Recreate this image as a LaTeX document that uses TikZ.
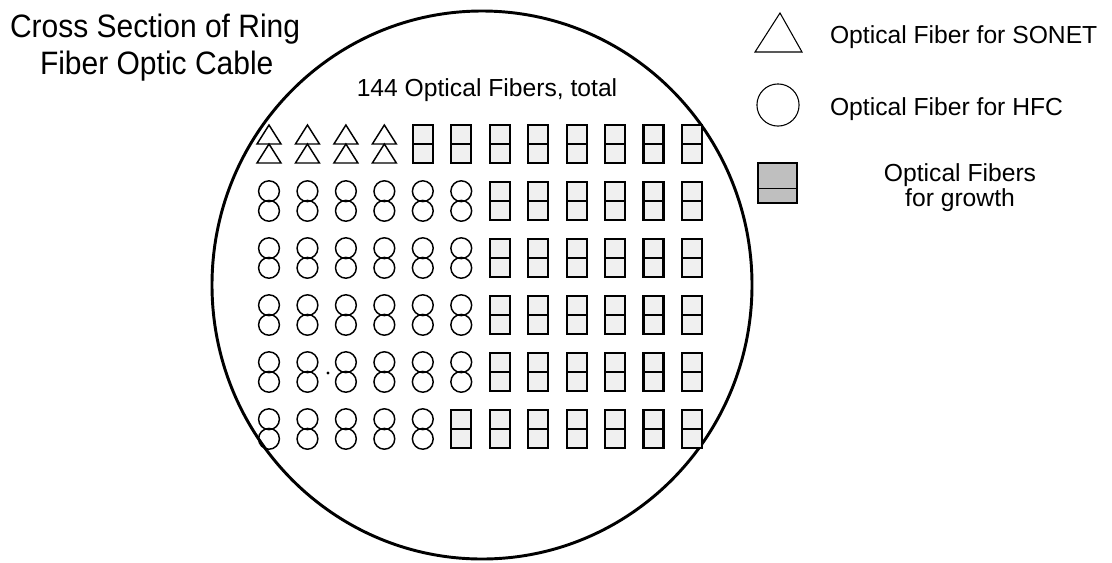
\documentclass[tikz,border=0pt]{standalone}
\usepackage{fontspec}
\setmainfont{Liberation Sans}
\begin{document}
\begin{tikzpicture}[x=0.75pt,y=-0.75pt,
  titlefont/.style={font=\fontsize{22.5}{27}\selectfont},
  labelfont/.style={font=\fontsize{18.5}{22}\selectfont},
  txt/.style={inner sep=0pt, outer sep=0pt},
  fibtri/.style={draw=black, line width=1.1pt, line join=miter},
  fibcirc/.style={draw=black, line width=1.1pt},
  fibrect/.style={draw=black, line width=1.6pt, fill=black!6},
  cable/.style={draw=black, line width=2.2pt},
  legshape/.style={draw=black, line width=0.8pt}]
\useasboundingbox (0,0) rectangle (1112,562);
\fill[white] (0,0) rectangle (1112,562);

% cable outline
\draw[cable] (482,285) ellipse [x radius=270, y radius=274];

% title
\node[txt, titlefont, anchor=base west, yscale=1.08] (title1) at (10,37) {Cross Section of Ring};
\node[txt, titlefont, anchor=base west, yscale=1.08] (title2) at (40,74) {Fiber Optic Cable};

% total label
\node[txt, labelfont, anchor=base] (total) at (487,96) {144 Optical Fibers, total};

% fibers: row / number of special fibers / kind (1 = SONET triangle, 2 = HFC circle)
\foreach \r/\k/\t in {1/4/1, 2/6/2, 3/6/2, 4/6/2, 5/6/2, 6/5/2} {
  \foreach \c in {1,...,12} {
    \pgfmathsetmacro\cx{269+38.45*(\c-1)}
    \pgfmathsetmacro\cy{144+57*(\r-1)}
    \ifnum\c>\k
      \draw[fibrect] ({\cx-10},{\cy-19}) rectangle ({\cx+10},{\cy+19});
      \draw[line width=1.5pt] ({\cx-10},{\cy}) -- ({\cx+10},{\cy});
    \else
      \ifnum\t=1
        \draw[fibtri] ({\cx-12},{\cy}) -- ({\cx+12},{\cy}) -- ({\cx},{\cy-19}) -- cycle;
        \draw[fibtri] ({\cx-12},{\cy+19}) -- ({\cx+12},{\cy+19}) -- ({\cx},{\cy}) -- cycle;
      \else
        \draw[fibcirc] ({\cx},{\cy-9.8}) circle [radius=7.8pt];
        \draw[fibcirc] ({\cx},{\cy+9.8}) circle [radius=7.8pt];
      \fi
    \fi
  }
}
\fill (328,373) circle [radius=1.2pt];

% legend
\draw[legshape] (755,52) -- (802,52) -- (780,13) -- cycle;
\node[txt, labelfont, anchor=base west] (legsonet) at (830,43) {Optical Fiber for SONET};
\draw[legshape] (778,105) circle [radius=15.8pt];
\node[txt, labelfont, anchor=base west] (leghfc) at (830,115) {Optical Fiber for HFC};
\draw[legshape, fill=black!25] (758,163) rectangle (797,203);
\draw[line width=0.5pt] (758,188) -- (797,188);
\node[txt, labelfont, anchor=base] (leggrowth1) at (960,181) {Optical Fibers};
\node[txt, labelfont, anchor=base] (leggrowth2) at (960,206) {for growth};
\end{tikzpicture}
\end{document}
